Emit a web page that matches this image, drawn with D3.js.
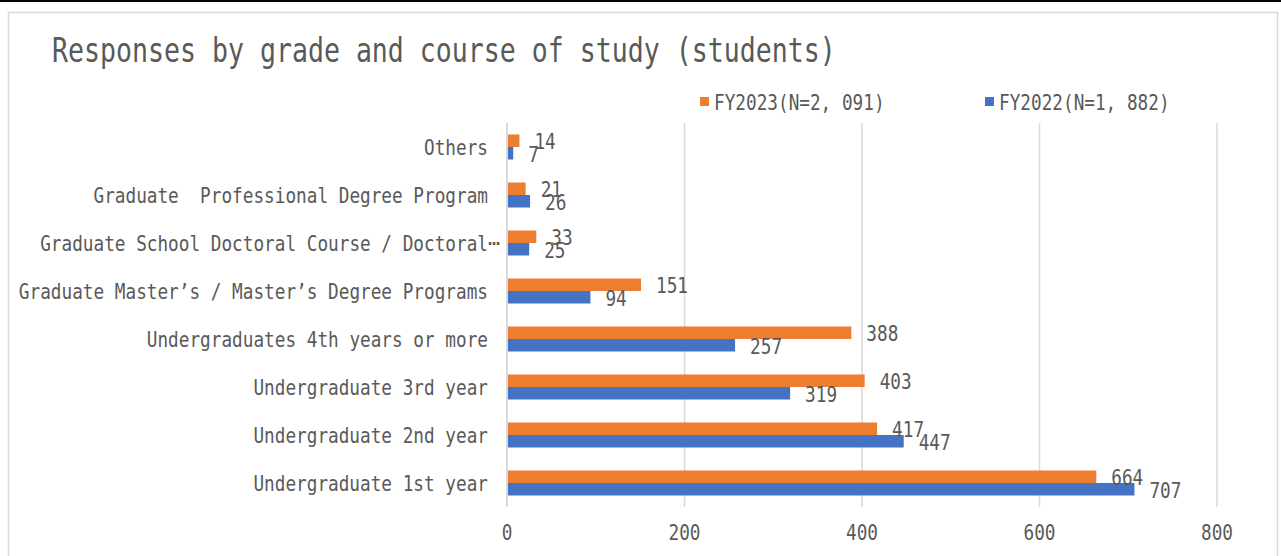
<!DOCTYPE html>
<html>
<head>
<meta charset="utf-8">
<script src="https://cdn.jsdelivr.net/npm/d3@7"></script>
<style>
  body { margin: 0; background: #fff; }
  text { font-family: "DejaVu Sans Mono", "Liberation Mono", monospace; fill: #595959; white-space: pre; }
</style>
</head>
<body>
<div id="chart"></div>
<script>
// categories from top to bottom
var categories = [
  "Others",
  "Graduate  Professional Degree Program",
  "Graduate School Doctoral Course / Doctoral…",
  "Graduate Master’s / Master’s Degree Programs",
  "Undergraduates 4th years or more",
  "Undergraduate 3rd year",
  "Undergraduate 2nd year",
  "Undergraduate 1st year"
];
var seriesNames = ["FY2023(N=2, 091)", "FY2022(N=1, 882)"];
var fy2023 = [14, 21, 33, 151, 388, 403, 417, 664];
var fy2022 = [7, 26, 25, 94, 257, 319, 447, 707];
var xTicks = [0, 200, 400, 600, 800];
var colors = ["#ED7D31", "#4472C4"];

var W = 1281, H = 556;
var svg = d3.select("#chart").append("svg")
  .attr("width", W)
  .attr("height", H);

// squeeze monospace glyphs to look like the narrow original font
var squeeze = 0.805;
function narrow(sel) {
  sel.each(function() {
    var len = this.getComputedTextLength();
    if (len > 0) {
      d3.select(this).attr("textLength", len * squeeze).attr("lengthAdjust", "spacingAndGlyphs");
    }
  });
}

// page line and chart frame
svg.append("rect").attr("x", 0).attr("y", 0).attr("width", W).attr("height", 2).style("fill", "#000");
svg.append("rect")
  .attr("x", 8.5).attr("y", 12.5)
  .attr("width", 1269).attr("height", 600)
  .style("fill", "none").style("stroke", "#d9d9d9").style("stroke-width", 1.5);

svg.append("text")
  .attr("x", 52).attr("y", 62)
  .style("font-size", "33px")
  .text("Responses by grade and course of study (students)")
  .call(narrow);

var x = d3.scaleLinear().domain([0, 800]).range([507, 1217]);
var y = d3.scaleBand().domain(categories).range([123, 507])
  .paddingInner(0.479).paddingOuter(0.2395);
var ySub = d3.scaleBand().domain([0, 1]).range([0, y.bandwidth()]);

// gridlines
svg.append("g").selectAll("line")
  .data(xTicks.slice(1))
  .enter().append("line")
  .attr("x1", d => x(d)).attr("x2", d => x(d))
  .attr("y1", 123).attr("y2", 507)
  .style("stroke", "#d9d9d9").style("stroke-width", 1.5);

// bars
var rows = categories.map((c, i) => ({cat: c, vals: [fy2023[i], fy2022[i]]}));
var groups = svg.append("g").selectAll("g")
  .data(rows)
  .enter().append("g")
  .attr("transform", d => "translate(0," + y(d.cat) + ")");

groups.selectAll("rect")
  .data(d => d.vals.map((v, s) => ({v: v, s: s})))
  .enter().append("rect")
  .attr("x", x(0))
  .attr("y", d => ySub(d.s))
  .attr("width", d => x(d.v) - x(0))
  .attr("height", ySub.bandwidth())
  .style("fill", d => colors[d.s]);

groups.selectAll("text")
  .data(d => d.vals.map((v, s) => ({v: v, s: s})))
  .enter().append("text")
  .attr("x", d => x(d.v) + 15)
  .attr("y", d => ySub(d.s) + ySub.bandwidth() / 2 + 1)
  .attr("dominant-baseline", "central")
  .style("font-size", "22px")
  .text(d => d.v)
  .call(narrow);

// y axis line
svg.append("line")
  .attr("x1", x(0)).attr("x2", x(0))
  .attr("y1", 123).attr("y2", 507)
  .style("stroke", "#d9d9d9").style("stroke-width", 2);

// category labels
svg.append("g").selectAll("text")
  .data(categories)
  .enter().append("text")
  .attr("x", 488)
  .attr("y", d => y(d) + y.bandwidth() / 2)
  .attr("text-anchor", "end")
  .attr("dominant-baseline", "central")
  .style("font-size", "22px")
  .text(d => d.replace("…", ""))
  .call(narrow);

svg.append("g").selectAll("text")
  .data(categories.filter(d => d.endsWith("…")))
  .enter().append("text")
  .attr("x", 488)
  .attr("y", d => y(d) + y.bandwidth() / 2)
  .attr("dominant-baseline", "central")
  .style("font-size", "20px")
  .text("⋯");

// x tick labels
svg.append("g").selectAll("text")
  .data(xTicks)
  .enter().append("text")
  .attr("x", d => x(d))
  .attr("y", 532)
  .attr("text-anchor", "middle")
  .attr("dominant-baseline", "central")
  .style("font-size", "22px")
  .text(d => d)
  .call(narrow);

// legend
var legendX = [700, 985];
var legend = svg.append("g").selectAll("g")
  .data(seriesNames)
  .enter().append("g")
  .attr("transform", (d, i) => "translate(" + legendX[i] + ",97)");
legend.append("rect")
  .attr("width", 9).attr("height", 9)
  .style("fill", (d, i) => colors[i]);
legend.append("text")
  .attr("x", 14).attr("y", 5)
  .attr("dominant-baseline", "central")
  .style("font-size", "22px")
  .text(d => d)
  .call(narrow);
</script>
</body>
</html>
